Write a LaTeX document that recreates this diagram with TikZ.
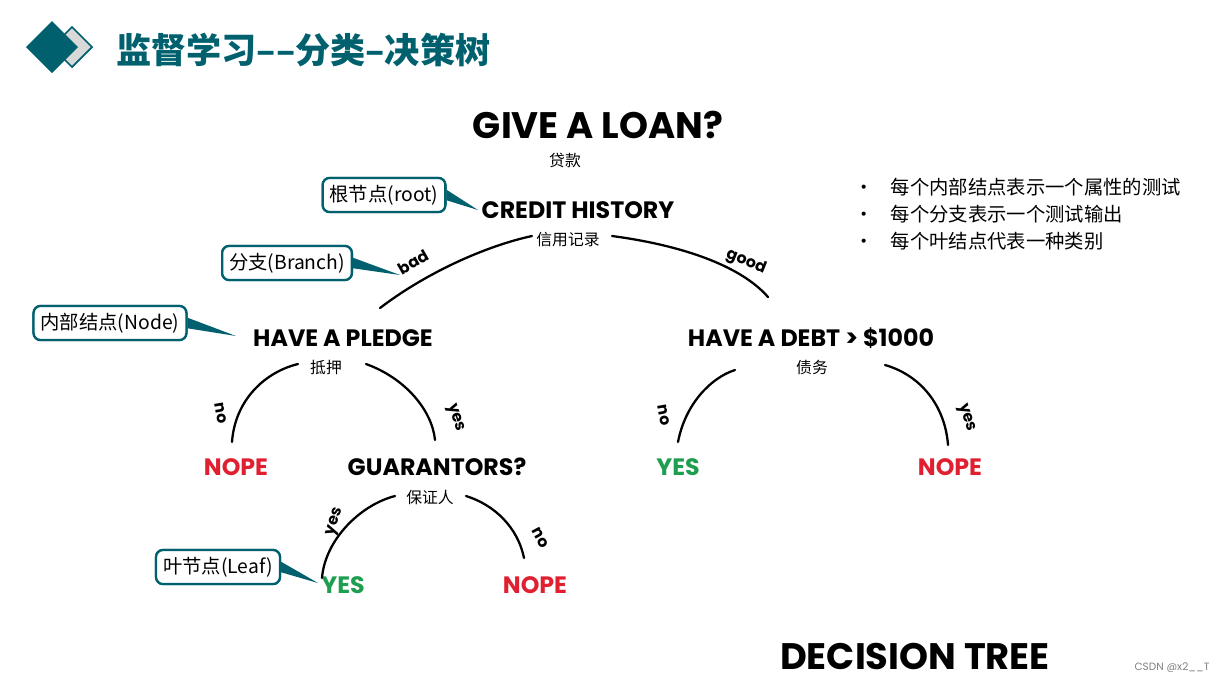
\documentclass[tikz,border=0pt]{standalone}
\usepackage{fontspec}
\setmainfont{Poppins}
\newfontfamily\cjk{Noto Sans CJK SC}
\usetikzlibrary{positioning}
\definecolor{tealc}{HTML}{00606E}
\definecolor{nored}{HTML}{E02030}
\definecolor{yesgreen}{HTML}{1E9E50}

\begin{document}
\begin{tikzpicture}[x=0.02cm, y=-0.02cm,
  big/.style={font=\fontsize{21}{23}\selectfont\bfseries},
  tnode/.style={font=\fontsize{13.5}{16}\selectfont\bfseries},
  sub/.style={font=\cjk\fontsize{9}{11}\selectfont},
  callout/.style={draw=tealc, line width=1.3pt, fill=white, rounded corners=4pt, inner sep=4pt, font=\cjk\fontsize{11}{13}\selectfont},
  arc/.style={line width=1.3pt, line cap=round},
  lbl/.style={font=\fontsize{9}{11}\selectfont\bfseries},
  bul/.style={font=\cjk\fontsize{11}{13}\selectfont, anchor=west},
]
\useasboundingbox (0,0) rectangle (1222,684);

% header
\fill[gray!30, draw=tealc, line width=1pt] (72,27) -- (92,47) -- (72,67) -- (52,47) -- cycle;
\fill[tealc] (52,21) -- (78,47) -- (52,73) -- (26,47) -- cycle;
\node[anchor=west, text=tealc, font=\cjk\bfseries\fontsize{20}{22}\selectfont] (head) at (110,50) {监督学习––分类–决策树};

% titles
\node[big] (loan) at (598,125) {GIVE A LOAN?};
\node[sub] (loanzh) at (565,160) {贷款};
\node[big] (dtree) at (915,656) {DECISION TREE};

% tree nodes
\node[tnode] (credit) at (578,210) {CREDIT HISTORY};
\node[sub] (creditzh) at (568,240) {信用记录};
\node[tnode] (pledge) at (343,338) {HAVE A PLEDGE};
\node[sub] (pledgezh) at (326,367) {抵押};
\node[tnode] (debt) at (811,338) {HAVE A DEBT > \$1000};
\node[sub] (debtzh) at (812,367) {债务};
\node[tnode, text=nored] (nope1) at (236,467) {NOPE};
\node[tnode] (guar) at (437,467) {GUARANTORS?};
\node[sub] (guarzh) at (430,497) {保证人};
\node[tnode, text=yesgreen] (yes1) at (678,467) {YES};
\node[tnode, text=nored] (nope2) at (950,467) {NOPE};
\node[tnode, text=yesgreen] (yes2) at (343,585) {YES};
\node[tnode, text=nored] (nope3) at (535,585) {NOPE};

% branches
\draw[arc] (380,308) .. controls (430,270) and (490,245) .. (532,236);
\draw[arc] (612,236) .. controls (680,245) and (740,265) .. (768,297);
\draw[arc] (232,442) .. controls (235,400) and (265,372) .. (298,364);
\draw[arc] (366,364) .. controls (405,378) and (432,410) .. (435,440);
\draw[arc] (678,442) .. controls (685,405) and (710,378) .. (735,370);
\draw[arc] (885,365) .. controls (920,375) and (945,405) .. (948,445);
\draw[arc] (322,578) .. controls (325,540) and (360,505) .. (395,496);
\draw[arc] (466,496) .. controls (495,505) and (518,528) .. (524,558);

\node[lbl, rotate=30] (lbad) at (413,262) {bad};
\node[lbl, rotate=-22] (lgood) at (746,262) {good};
\node[lbl, rotate=-80] (lno1) at (221,413) {no};
\node[lbl, rotate=-72] (lyes1) at (455,418) {yes};
\node[lbl, rotate=-80] (lno2) at (664,415) {no};
\node[lbl, rotate=-72] (lyes2) at (966,418) {yes};
\node[lbl, rotate=72] (lyes3) at (336,522) {yes};
\node[lbl, rotate=-62] (lno3) at (540,538) {no};

% callouts
\foreach \nm/\txt/\pos/\tip in {root/根节点(root)/{384,195}/{478,210},
    branch/分支(Branch)/{287,263}/{400,275},
    inode/内部结点(Node)/{110,323}/{236,336},
    leaf/叶节点(Leaf)/{218,567}/{318,583}}{
  \node[callout] (\nm) at (\pos) {\txt};
  \fill[tealc] ([yshift=3pt]\nm.east) -- (\tip) -- ([yshift=-3pt]\nm.east) -- cycle;
  \node[callout] at (\pos) {\txt};
}

% bullets
\node[bul] (b1) at (848,187) {•\hspace{0.9em}每个内部结点表示一个属性的测试};
\node[bul] (b2) at (848,214) {•\hspace{0.9em}每个分支表示一个测试输出};
\node[bul] (b3) at (848,241) {•\hspace{0.9em}每个叶结点代表一种类别};

\node[text=gray, font=\fontsize{6}{7}\selectfont] (csdn) at (1172,668) {CSDN @x2\_\_T};
\end{tikzpicture}
\end{document}
